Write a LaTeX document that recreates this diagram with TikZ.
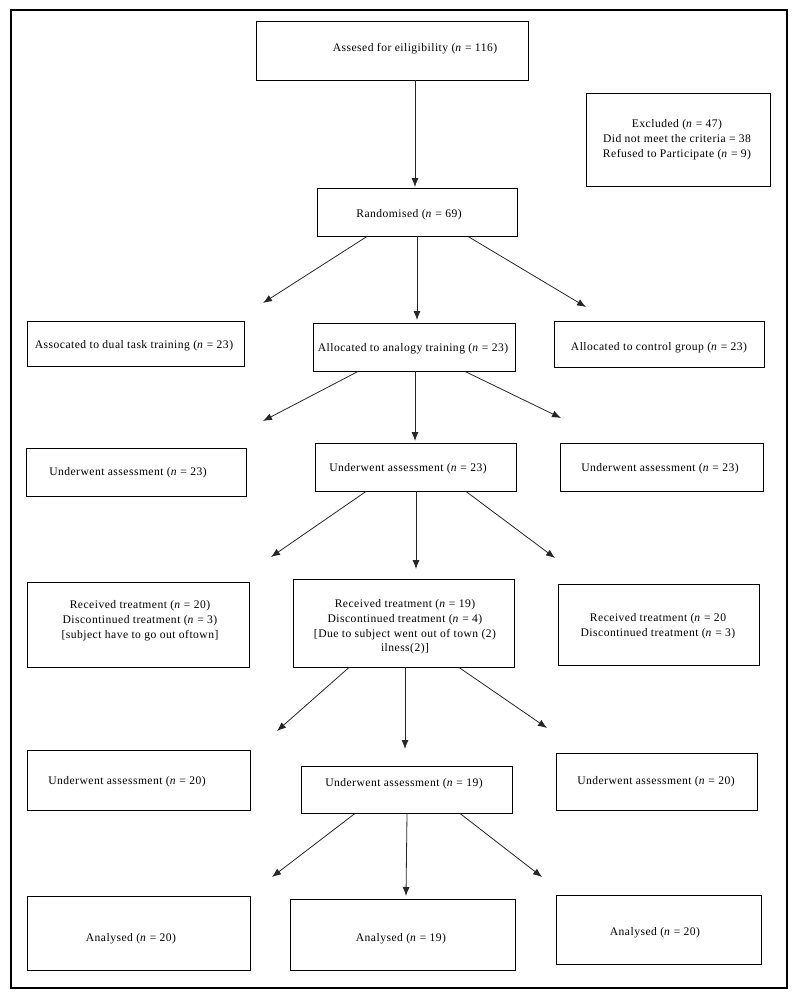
\documentclass[tikz,border=0pt]{standalone}
\usepackage{fontspec}
\setmainfont{Liberation Serif}[LetterSpace=4]
\usetikzlibrary{arrows.meta,fit}
\tikzset{
  box/.style={draw, line width=0.9pt, inner sep=0pt},
  txt/.style={font=\fontsize{11.6}{14.8}\selectfont, align=center, inner sep=0pt, yshift=-2pt},
  arr/.style={-{Latex[length=9pt,width=7pt]}, line width=0.8pt, draw=black!85}
}
\newcommand\nn{\textit{n}}
\begin{document}
\begin{tikzpicture}[x=1pt,y=-1pt]
\useasboundingbox (0,0) rectangle (797,993);
\node[draw, line width=1.2pt, inner sep=0pt, fit={(11,10) (787,988)}] (frame) {};
% boxes
\node[box, fit={(256,21) (528,80)}] (assess) {};
\node[box, fit={(586,93) (770,186)}] (excl) {};
\node[box, fit={(317,188) (517,236)}] (rand) {};
\node[box, fit={(27,321) (244,366)}] (dual) {};
\node[box, fit={(313,323) (515,371)}] (anal) {};
\node[box, fit={(554,321) (764,367)}] (ctrl) {};
\node[box, fit={(26,448) (246,496)}] (ua1) {};
\node[box, fit={(315,443) (516,491)}] (ub1) {};
\node[box, fit={(560,443) (763,491)}] (uc1) {};
\node[box, fit={(27,582) (249,667)}] (ra) {};
\node[box, fit={(293,579) (514,667)}] (rb) {};
\node[box, fit={(558,584) (759,665)}] (rc) {};
\node[box, fit={(27,750) (250,810)}] (ua2) {};
\node[box, fit={(301,766) (512,813)}] (ub2) {};
\node[box, fit={(556,753) (757,810)}] (uc2) {};
\node[box, fit={(27,896) (250,970)}] (aa) {};
\node[box, fit={(290,899) (515,970)}] (ab) {};
\node[box, fit={(556,895) (761,964)}] (ac) {};
% texts
\node[txt] (tassess) at (415,47) {Assesed for eiligibility (\nn{} = 116)};
\node[txt] (texcl) at (677,138) {Excluded (\nn{} = 47)\\Did not meet the criteria = 38\\Refused to Participate (\nn{} = 9)};
\node[txt] (trand) at (409,213) {Randomised (\nn{} = 69)};
\node[txt] (tdual) at (134,344) {Assocated to dual task training (\nn{} = 23)};
\node[txt] (tanal) at (413,347) {Allocated to analogy training (\nn{} = 23)};
\node[txt] (tctrl) at (659,346) {Allocated to control group (\nn{} = 23)};
\node[txt] (tua1) at (128,471) {Underwent assessment (\nn{} = 23)};
\node[txt] (tub1) at (408,467) {Underwent assessment (\nn{} = 23)};
\node[txt] (tuc1) at (660,467) {Underwent assessment (\nn{} = 23)};
\node[txt] (tra) at (140,619) {Received treatment (\nn{} = 20)\\Discontinued treatment (\nn{} = 3)\\{[subject have to go out oftown]}};
\node[txt] (trb) at (405,625) {Received treatment (\nn{} = 19)\\Discontinued treatment (\nn{} = 4)\\{[Due to subject went out of town (2)}\\ilness(2)]};
\node[txt] (trc) at (658,624) {Received treatment (\nn{} = 20\\Discontinued treatment (\nn{} = 3)};
\node[txt] (tua2) at (127,780) {Underwent assessment (\nn{} = 20)};
\node[txt] (tub2) at (404,782) {Underwent assessment (\nn{} = 19)};
\node[txt] (tuc2) at (656,780) {Underwent assessment (\nn{} = 20)};
\node[txt] (taa) at (131,937) {Analysed (\nn{} = 20)};
\node[txt] (tab) at (401,937) {Analysed (\nn{} = 19)};
\node[txt] (tac) at (655,931) {Analysed (\nn{} = 20)};
% arrow ends
\coordinate (e0) at (415,187);
\coordinate (e1l) at (263,303);
\coordinate (e1m) at (417,320);
\coordinate (e1r) at (586,307);
\coordinate (e2l) at (263,421);
\coordinate (e2m) at (415,441);
\coordinate (e2r) at (561,418);
\coordinate (e3l) at (271,557);
\coordinate (e3m) at (416,569);
\coordinate (e3r) at (555,558);
\coordinate (e4l) at (277,731);
\coordinate (e4m) at (405,749);
\coordinate (e4r) at (547,728);
\coordinate (e5l) at (272,877);
\coordinate (e5m) at (406,896);
\coordinate (e5r) at (542,877);
% arrows
\draw[arr] (assess.south -| e0) -- (e0);
\draw[arr] (rand.south -| 367,0) -- (e1l);
\draw[arr] (rand.south -| e1m) -- (e1m);
\draw[arr] (rand.south -| 468,0) -- (e1r);
\draw[arr] (anal.south -| 358,0) -- (e2l);
\draw[arr] (anal.south -| e2m) -- (e2m);
\draw[arr] (anal.south -| 465,0) -- (e2r);
\draw[arr] (ub1.south -| 366,0) -- (e3l);
\draw[arr] (ub1.south -| e3m) -- (e3m);
\draw[arr] (ub1.south -| 466,0) -- (e3r);
\draw[arr] (rb.south -| 349,0) -- (e4l);
\draw[arr] (rb.south -| e4m) -- (e4m);
\draw[arr] (rb.south -| 459,0) -- (e4r);
\draw[arr] (ub2.south -| 355,0) -- (e5l);
\draw[arr] (ub2.south -| 407,0) -- (e5m);
\draw[arr] (ub2.south -| 460,0) -- (e5r);
\end{tikzpicture}
\end{document}
